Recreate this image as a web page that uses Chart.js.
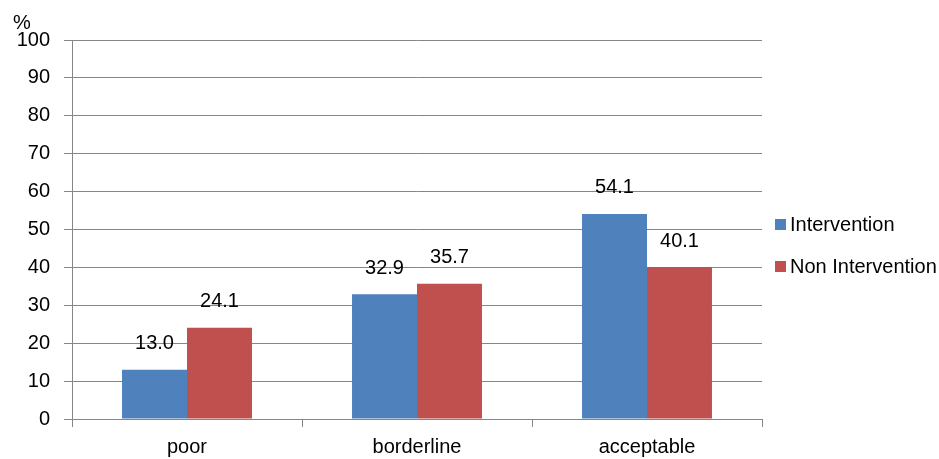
<!DOCTYPE html>
<html>
<head>
<meta charset="utf-8">
<script src="https://cdn.jsdelivr.net/npm/chart.js@4/dist/chart.umd.min.js"></script>
<style>
  html, body { margin: 0; padding: 0; background: #fff; }
  #wrap { position: relative; width: 939px; height: 459px; }
</style>
</head>
<body>
<div id="wrap"><canvas id="c" width="939" height="459"></canvas></div>
<script>
const categories = ['poor', 'borderline', 'acceptable'];
const intervention = [13.0, 32.9, 54.1];
const nonIntervention = [24.1, 35.7, 40.1];
const seriesNames = ['Intervention', 'Non Intervention'];
const yTicks = [0, 10, 20, 30, 40, 50, 60, 70, 80, 90, 100];

const FONT = 'Liberation Sans, Arial, sans-serif';
const FS = 20;
const GRID = '#868686';
const BLUE = '#4f81bd';
const RED = '#c0504d';

// value labels above each bar
const valueLabels = {
  id: 'valueLabels',
  afterDatasetsDraw(chart) {
    const ctx = chart.ctx;
    ctx.save();
    ctx.font = FS + 'px ' + FONT;
    ctx.fillStyle = '#000';
    ctx.textAlign = 'center';
    ctx.textBaseline = 'middle';
    chart.data.datasets.forEach((ds, i) => {
      chart.getDatasetMeta(i).data.forEach((bar, j) => {
        ctx.fillText(ds.data[j].toFixed(1), bar.x, bar.y - 26);
      });
    });
    ctx.restore();
  }
};

// axis unit and legend on the right
const extras = {
  id: 'extras',
  afterDraw(chart) {
    const ctx = chart.ctx;
    const area = chart.chartArea;
    ctx.save();
    ctx.font = FS + 'px ' + FONT;
    ctx.fillStyle = '#000';
    ctx.textAlign = 'left';
    ctx.textBaseline = 'middle';
    ctx.fillText('%', 13, 23);
    const colors = [BLUE, RED];
    const ys = [224, 266];
    seriesNames.forEach((name, i) => {
      ctx.fillStyle = colors[i];
      ctx.fillRect(area.right + 13, ys[i] - 5, 11, 11);
      ctx.fillStyle = '#000';
      ctx.fillText(name, area.right + 28, ys[i] + 1);
    });
    ctx.restore();
  }
};

new Chart(document.getElementById('c'), {
  type: 'bar',
  data: {
    labels: categories,
    datasets: [
      { label: seriesNames[0], data: intervention, backgroundColor: BLUE },
      { label: seriesNames[1], data: nonIntervention, backgroundColor: RED }
    ]
  },
  options: {
    responsive: false,
    animation: false,
    events: [],
    layout: { padding: { top: 40, right: 177, left: 0, bottom: 0 } },
    plugins: { legend: { display: false }, tooltip: { enabled: false } },
    datasets: { bar: { categoryPercentage: 0.565, barPercentage: 1.0 } },
    scales: {
      x: {
        afterFit(s) { s.height = 40; },
        grid: { drawOnChartArea: false, drawTicks: true, tickLength: 8, color: GRID, offset: true },
        border: { color: GRID, width: 1 },
        ticks: { color: '#000', font: { family: FONT, size: FS }, padding: 8 }
      },
      y: {
        min: 0, max: 100,
        afterFit(s) { s.width = 72; },
        afterBuildTicks(s) { s.ticks = yTicks.map(v => ({ value: v })); },
        grid: { color: GRID, tickLength: 8 },
        border: { color: GRID, width: 1 },
        ticks: { color: '#000', font: { family: FONT, size: FS }, padding: 14 }
      }
    }
  },
  plugins: [valueLabels, extras]
});
</script>
</body>
</html>
